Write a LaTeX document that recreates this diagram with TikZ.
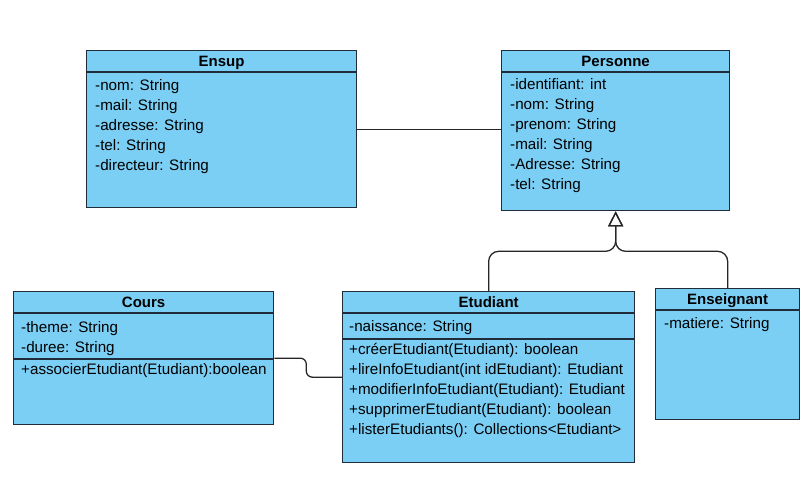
\documentclass[tikz,border=0pt]{standalone}
\usepackage{fontspec}
\setmainfont{Liberation Sans}
\usepackage{tikz}
\usetikzlibrary{calc,arrows.meta}
\definecolor{umlblue}{RGB}{123, 207, 245}
\definecolor{umlborder}{RGB}{32, 44, 58}

\tikzset{
  classbox/.style={draw=umlborder, fill=umlblue, line width=1.3pt, inner sep=0pt, anchor=north west},
  sepline/.style={draw=umlborder, line width=1.3pt},
  classname/.style={anchor=base, inner sep=0pt, font=\fontsize{15}{17}\selectfont\bfseries},
  member/.style={anchor=base west, inner sep=0pt},
  link/.style={line width=1.3pt, draw=black!85}
}

\begin{document}
\begin{tikzpicture}[x=1pt, y=-1pt, >=Stealth, font=\fontsize{15.2}{17}\selectfont]
  \useasboundingbox (0,0) rectangle (810,477);

  % Class boxes
  \node[classbox, minimum width=270pt, minimum height=157pt] (ensup) at (86,50) {};
  \node[classbox, minimum width=228pt, minimum height=160pt] (personne) at (501,50) {};
  \node[classbox, minimum width=260pt, minimum height=133pt] (cours) at (13,291) {};
  \node[classbox, minimum width=292pt, minimum height=171pt] (etudiant) at (342,291) {};
  \node[classbox, minimum width=144pt, minimum height=131pt] (enseignant) at (655,288) {};

  % Compartment separators
  \draw[sepline] ($(ensup.north west)+(0,22)$) -- ($(ensup.north east)+(0,22)$);
  \draw[sepline] ($(personne.north west)+(0,22)$) -- ($(personne.north east)+(0,22)$);
  \draw[sepline] ($(cours.north west)+(0,22)$) -- ($(cours.north east)+(0,22)$);
  \draw[sepline] ($(cours.north west)+(0,68)$) -- ($(cours.north east)+(0,68)$);
  \draw[sepline] ($(etudiant.north west)+(0,22)$) -- ($(etudiant.north east)+(0,22)$);
  \draw[sepline] ($(etudiant.north west)+(0,48)$) -- ($(etudiant.north east)+(0,48)$);
  \draw[sepline] ($(enseignant.north west)+(0,22)$) -- ($(enseignant.north east)+(0,22)$);

  % Class names
  \node[classname] (ensupT) at ($(ensup.north)+(0,16)$) {Ensup};
  \node[classname] (personneT) at ($(personne.north)+(0,16)$) {Personne};
  \node[classname] (coursT) at ($(cours.north)+(0,16)$) {Cours};
  \node[classname] (etudiantT) at ($(etudiant.north)+(0,16.5)$) {Etudiant};
  \node[classname] (enseignantT) at ($(enseignant.north)+(0,16.5)$) {Enseignant};

  % Ensup attributes
  \node[member] (ensupA1) at (95,90) {-nom: String};
  \node[member] (ensupA2) at (95,110) {-mail: String};
  \node[member] (ensupA3) at (95,130) {-adresse: String};
  \node[member] (ensupA4) at (95,150) {-tel: String};
  \node[member] (ensupA5) at (95,170) {-directeur: String};

  % Personne attributes
  \node[member] (personneA1) at (510,89) {-identifiant: int};
  \node[member] (personneA2) at (510,109) {-nom: String};
  \node[member] (personneA3) at (510,129) {-prenom: String};
  \node[member] (personneA4) at (510,149) {-mail: String};
  \node[member] (personneA5) at (510,169) {-Adresse: String};
  \node[member] (personneA6) at (510,189) {-tel: String};

  % Cours
  \node[member] (coursA1) at (21,332) {-theme: String};
  \node[member] (coursA2) at (21,352) {-duree: String};
  \node[member] (coursM1) at (21,374) {+associerEtudiant(Etudiant):boolean};

  % Etudiant
  \node[member] (etudiantA1) at (349,331) {-naissance: String};
  \node[member] (etudiantM1) at (349,354) {+créerEtudiant(Etudiant): boolean};
  \node[member] (etudiantM2) at (349,374) {+lireInfoEtudiant(int idEtudiant): Etudiant};
  \node[member] (etudiantM3) at (349,394) {+modifierInfoEtudiant(Etudiant): Etudiant};
  \node[member] (etudiantM4) at (349,414) {+supprimerEtudiant(Etudiant): boolean};
  \node[member] (etudiantM5) at (349,434) {+listerEtudiants(): Collections<Etudiant>};

  % Enseignant
  \node[member] (enseignantA1) at (664,328) {-matiere: String};

  % Associations
  \draw[link] (ensup.east) -- (ensup.east -| personne.west);
  \draw[link, rounded corners=6pt] (cours.east) -- ++(32,0) |- (etudiant.west);

  % Inheritance
  \coordinate (jct) at ($(personne.south)+(0,40)$);
  \draw[link, rounded corners=10pt, -{Triangle[open, width=15pt, length=15pt, line width=1.3pt]}]
    (etudiant.north) |- (jct) -- (personne.south);
  \draw[link, rounded corners=10pt, -{Triangle[open, width=15pt, length=15pt, line width=1.3pt]}]
    (enseignant.north) |- (jct) -- (personne.south);
\end{tikzpicture}
\end{document}
